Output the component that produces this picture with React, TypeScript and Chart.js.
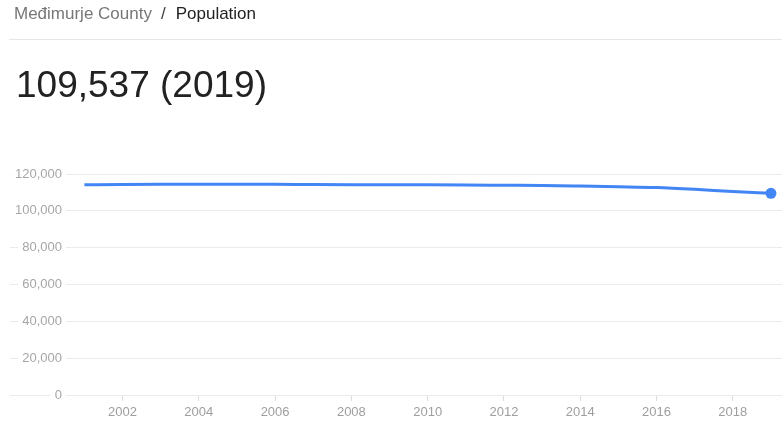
import React, { useEffect, useRef } from "react";
import { Chart, registerables } from "chart.js";

Chart.register(...registerables);

const YEARS = [2001, 2002, 2003, 2004, 2005, 2006, 2007, 2008, 2009, 2010, 2011, 2012, 2013, 2014, 2015, 2016, 2017, 2018, 2019];
const POPULATION = [114100, 114300, 114400, 114450, 114450, 114400, 114250, 114150, 114100, 114100, 114050, 113900, 113750, 113450, 113100, 112650, 111700, 110500, 109537];
const X_TICKS = [2002, 2004, 2006, 2008, 2010, 2012, 2014, 2016, 2018];
const Y_TICKS = [0, 20000, 40000, 60000, 80000, 100000, 120000];

const BREADCRUMB_PARENT = "Međimurje County";
const BREADCRUMB_CURRENT = "Population";
const HEADLINE = "109,537 (2019)";

const FONT = '"Liberation Sans", Arial, sans-serif';

export default function App() {
  const canvasRef = useRef<HTMLCanvasElement | null>(null);

  useEffect(() => {
    const canvas = canvasRef.current;
    if (!canvas) return;
    const last = POPULATION.length - 1;
    const chart = new Chart(canvas, {
      type: "line",
      data: {
        datasets: [
          {
            data: YEARS.map((y, i) => ({ x: y, y: POPULATION[i] })),
            borderColor: "#4285f4",
            backgroundColor: "#4285f4",
            borderWidth: 3,
            tension: 0.4,
            cubicInterpolationMode: "monotone",
            pointRadius: (ctx: any) => (ctx.dataIndex === last ? 5.5 : 0),
            pointHoverRadius: 0,
            pointBorderWidth: 0,
            fill: false,
            clip: false,
          },
        ],
      },
      options: {
        animation: false,
        responsive: false,
        maintainAspectRatio: false,
        layout: { autoPadding: false, padding: { left: 10, right: 0, top: 174, bottom: 0 } },
        plugins: { legend: { display: false }, tooltip: { enabled: false }, title: { display: false } },
        scales: {
          x: {
            type: "linear",
            min: 1999.05,
            max: 2019.29,
            afterBuildTicks: (axis: any) => {
              axis.ticks = X_TICKS.map((v) => ({ value: v }));
            },
            afterFit: (axis: any) => {
              axis.height = 26;
              axis.paddingLeft = 0;
              axis.paddingRight = 0;
            },
            grid: { drawOnChartArea: false, drawTicks: true, tickLength: 6, color: "#dddddd", lineWidth: 1 },
            border: { display: false },
            ticks: {
              color: "#9e9e9e",
              font: { family: FONT, size: 13 },
              padding: 4,
              maxRotation: 0,
              autoSkip: false,
              callback: (v: any) => String(v),
            },
          },
          y: {
            type: "linear",
            min: 0,
            max: 120000,
            afterBuildTicks: (axis: any) => {
              axis.ticks = Y_TICKS.map((v) => ({ value: v }));
            },
            afterFit: (axis: any) => {
              axis.width = 0;
              axis.paddingTop = 0;
              axis.paddingBottom = 0;
            },
            grid: { drawTicks: false, color: "#ebebeb", lineWidth: 1 },
            border: { display: false },
            ticks: {
              mirror: true,
              crossAlign: "far",
              padding: 5,
              color: "#a6a6a6",
              font: { family: FONT, size: 13 },
              showLabelBackdrop: true,
              backdropColor: "#ffffff",
              backdropPadding: { left: 4, right: 4, top: 1, bottom: 1 },
              callback: (v: any) => Number(v).toLocaleString("en-US"),
            },
          },
        },
      },
    } as any);
    return () => chart.destroy();
  }, []);

  return (
    <div style={{ position: "fixed", left: 0, top: 0, width: 782, height: 421, background: "#fff", overflow: "hidden", fontFamily: FONT }}>
      <canvas ref={canvasRef} width={782} height={421} style={{ position: "absolute", left: 0, top: 0, width: 782, height: 421 }} />
      <div style={{ position: "absolute", left: 14, top: 5, fontSize: 17, lineHeight: "17px", whiteSpace: "nowrap" }}>
        <span style={{ color: "#777777" }}>{BREADCRUMB_PARENT}</span>
        <span style={{ color: "#3c4043", margin: "0 10px 0 9px" }}>/</span>
        <span style={{ color: "#222222" }}>{BREADCRUMB_CURRENT}</span>
      </div>
      <div style={{ position: "absolute", left: 9, top: 39, width: 773, height: 1, background: "#e6e6e6" }} />
      <div style={{ position: "absolute", left: 16, top: 66, fontSize: 37, lineHeight: "37px", color: "#222222", whiteSpace: "nowrap" }}>
        {HEADLINE}
      </div>
    </div>
  );
}
